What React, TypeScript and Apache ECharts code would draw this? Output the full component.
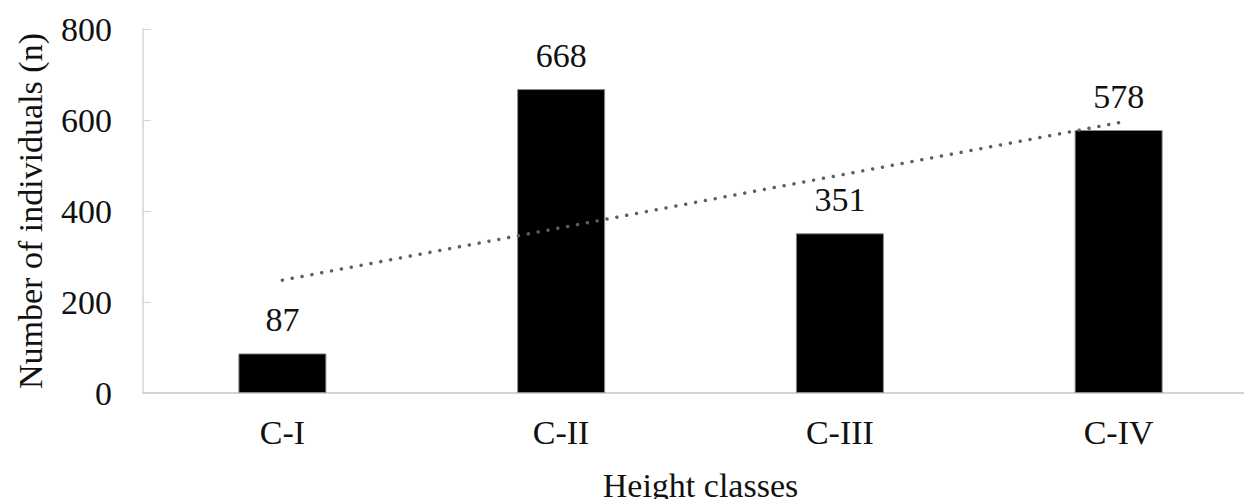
import React, { useEffect, useRef } from "react";
import * as echarts from "echarts";

// Height classes and the number of individuals in each
const categories = ["C-I", "C-II", "C-III", "C-IV"];
const individuals = [87, 668, 351, 578];

// Linear trend line: value at the first and the last class
const trendEnds = [248, 594];

// Y axis ticks
const yTicks = [0, 200, 400, 600, 800];

const yTitle = "Number of individuals (n)";
const xTitle = "Height classes";

const FONT = "'Liberation Serif', 'Times New Roman', serif";

const text34 = { fontFamily: FONT, fontSize: 34, color: "#111", fontWeight: "normal" as const };

export default function App() {
  const ref = useRef<HTMLDivElement>(null);

  useEffect(() => {
    if (!ref.current) return;
    const chart = echarts.init(ref.current, undefined, { renderer: "svg" });
    chart.setOption({
      animation: false,
      backgroundColor: "#ffffff",
      textStyle: { fontFamily: FONT },
      grid: {
        left: 143,
        right: -14,
        top: 29,
        bottom: 106,
        containLabel: false,
        outerBoundsMode: "none",
      },
      xAxis: {
        type: "category",
        data: categories,
        name: xTitle,
        nameLocation: "middle",
        nameGap: 75,
        nameTextStyle: { ...text34 },
        axisLine: { show: true, lineStyle: { color: "#d4d4d4", width: 2 } },
        axisTick: { show: false },
        axisLabel: { ...text34, margin: 22 },
      },
      yAxis: {
        type: "value",
        min: yTicks[0],
        max: yTicks[yTicks.length - 1],
        interval: yTicks[1] - yTicks[0],
        axisLine: { show: true, lineStyle: { color: "#d4d4d4", width: 1.5 } },
        axisTick: { show: true, inside: true, length: 8, lineStyle: { color: "#d4d4d4" } },
        splitLine: { show: false },
        axisLabel: { ...text34, margin: 31 },
      },
      series: [
        {
          type: "bar",
          data: individuals,
          barWidth: 88,
          itemStyle: { color: "#000000", borderColor: "#8a8a8a", borderWidth: 1 },
          z: 2,
        },
        {
          type: "line",
          data: [
            [0, trendEnds[0]],
            [categories.length - 1, trendEnds[1]],
          ],
          symbol: "none",
          silent: true,
          lineStyle: {
            color: "#5f5f5f",
            width: 3.5,
            type: [0.01, 10],
            cap: "round",
          },
          z: 3,
        },
      ],
    });

    // value labels above the bars and the vertical axis title, placed through the chart's scales
    const top = chart.convertToPixel({ gridIndex: 0 }, [0, yTicks[yTicks.length - 1]]) as number[];
    const bottom = chart.convertToPixel({ gridIndex: 0 }, [0, yTicks[0]]) as number[];
    const valueLabels = individuals.map((v, i) => {
      const p = chart.convertToPixel({ seriesIndex: 0 }, [i, v]) as number[];
      return {
        type: "text",
        x: p[0],
        y: p[1] - 17,
        silent: true,
        style: {
          text: String(v),
          fill: "#111",
          font: `34px ${FONT}`,
          fontFamily: FONT,
          fontSize: 34,
          textAlign: "center",
          textVerticalAlign: "bottom",
          verticalAlign: "bottom",
        },
        z: 10,
      };
    });
    chart.setOption({
      graphic: [
        ...valueLabels,
        {
          type: "text",
          x: 30,
          y: (top[1] + bottom[1]) / 2,
          rotation: Math.PI / 2,
          silent: true,
          style: {
            text: yTitle,
            fill: "#111",
            font: `34px ${FONT}`,
            fontFamily: FONT,
            fontSize: 34,
            textAlign: "center",
            verticalAlign: "middle",
            textVerticalAlign: "middle",
          },
          z: 10,
        },
      ],
    });
    return () => chart.dispose();
  }, []);

  return (
    <div
      ref={ref}
      style={{ position: "absolute", left: 0, top: 0, width: 1244, height: 499 }}
    />
  );
}
